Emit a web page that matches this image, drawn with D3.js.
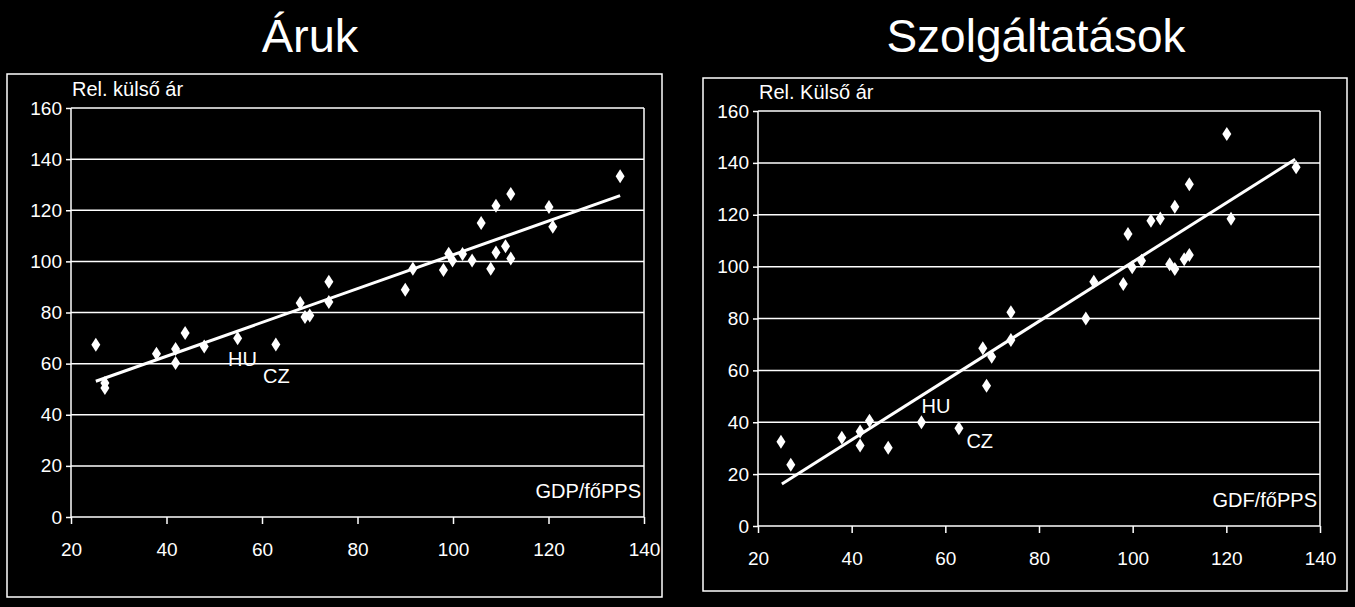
<!DOCTYPE html>
<html>
<head>
<meta charset="utf-8">
<script src="https://cdn.jsdelivr.net/npm/d3@7"></script>
<style>
  html, body { margin: 0; padding: 0; background: #000; }
  svg { display: block; }
  text { font-family: "Liberation Sans", Arial, sans-serif; fill: #fff; }
</style>
</head>
<body>
<svg id="chart" width="1355" height="607"></svg>
<script>
// ---------- Data ----------
const xTicks = [20, 40, 60, 80, 100, 120, 140];
const yTicks = [0, 20, 40, 60, 80, 100, 120, 140, 160];

// Áruk (goods)
const goodsTitle = "Áruk";
const goodsYLabel = "Rel. külső ár";
const goodsXLabel = "GDP/főPPS";
const goodsGdp   = [25.2, 27.1, 27.1, 37.9, 41.9, 41.9, 43.9, 47.9, 54.9, 62.9, 68.0, 69.0, 70.0, 74.0, 74.0, 90.0, 91.6, 98.0, 99.1, 99.9, 102.0, 104.0, 105.9, 107.9, 109.0, 109.0, 111.0, 112.1, 112.1, 120.1, 120.9, 135.0];
const goodsPrice = [67.4, 52.4, 50.5, 63.9, 65.7, 60.2, 72.0, 66.7, 69.9, 67.5, 83.7, 78.2, 78.8, 92.0, 84.1, 88.9, 97.1, 96.6, 103.0, 100.3, 102.9, 100.3, 115.0, 97.1, 121.8, 103.5, 105.9, 126.4, 101.1, 121.3, 113.5, 133.3];
const goodsTrendX = [25.2, 135.0];
const goodsTrendY = [53.1, 125.7];
const goodsLabels = ["HU", "CZ"];
const goodsLabelX = [52.9, 60.2];
const goodsLabelY = [59.2, 52.5];

// Szolgáltatások (services)
const servTitle = "Szolgáltatások";
const servYLabel = "Rel. Külső ár";
const servXLabel = "GDF/főPPS";
const servGdp   = [24.9, 27.0, 37.9, 41.8, 41.8, 43.8, 47.8, 54.9, 62.9, 68.0, 68.8, 69.9, 74.0, 74.0, 90.0, 91.7, 98.0, 99.0, 99.9, 101.9, 103.9, 105.9, 107.9, 109.0, 109.0, 111.0, 112.1, 112.1, 120.1, 121.0, 134.9];
const servPrice = [32.5, 23.6, 34.0, 36.4, 31.0, 40.6, 30.2, 40.0, 37.7, 68.5, 54.1, 65.3, 82.4, 71.7, 80.0, 94.2, 93.3, 112.6, 99.8, 102.3, 117.7, 118.6, 100.9, 123.1, 99.1, 102.8, 104.5, 131.8, 151.1, 118.5, 138.3];
const servTrendX = [25.1, 134.7];
const servTrendY = [16.2, 141.4];
const servLabels = ["HU", "CZ"];
const servLabelX = [54.9, 64.5];
const servLabelY = [43.4, 29.9];

// ---------- Drawing ----------
const svg = d3.select("#chart");
svg.append("rect").attr("width", 1355).attr("height", 607).attr("fill", "#000");

function drawPanel(cfg) {
  const g = svg.append("g");
  // outer frame
  g.append("rect")
    .attr("x", cfg.frame[0]).attr("y", cfg.frame[1])
    .attr("width", cfg.frame[2] - cfg.frame[0]).attr("height", cfg.frame[3] - cfg.frame[1])
    .attr("fill", "none").attr("stroke", "#fff").attr("stroke-width", 1.5);

  // title
  g.append("text")
    .attr("x", cfg.titleX).attr("y", 52)
    .attr("text-anchor", "middle")
    .style("font-size", cfg.titleSize)
    .text(cfg.title);

  const x = d3.scaleLinear().domain([20, 140]).range([cfg.plot.left, cfg.plot.right]);
  const y = d3.scaleLinear().domain([0, 160]).range([cfg.plot.bottom, cfg.plot.top]);

  // gridlines
  g.append("g").selectAll("line").data(yTicks.filter(d => d > 0)).join("line")
    .attr("x1", x(20)).attr("x2", x(140))
    .attr("y1", d => y(d)).attr("y2", d => y(d))
    .attr("stroke", "#fff").attr("stroke-width", 1.5);

  // right border of plot
  g.append("line")
    .attr("x1", x(140)).attr("x2", x(140)).attr("y1", y(160)).attr("y2", y(0))
    .attr("stroke", "#fff").attr("stroke-width", 1.5);

  // y axis
  const yAxis = d3.axisLeft(y).tickValues(yTicks).tickSize(5).tickPadding(4);
  const ya = g.append("g").attr("transform", `translate(${x(20)},0)`).call(yAxis);
  // x axis
  const xAxis = d3.axisBottom(x).tickValues(xTicks).tickSize(7).tickPadding(19);
  const xa = g.append("g").attr("transform", `translate(0,${y(0)})`).call(xAxis);

  [ya, xa].forEach(a => {
    a.selectAll("path.domain").attr("stroke", "#fff").attr("stroke-width", 1.5);
    a.selectAll(".tick line").attr("stroke", "#fff").attr("stroke-width", 1.5);
    a.selectAll(".tick text")
      .attr("fill", "#fff")
      .style("font-family", '"Liberation Sans", Arial, sans-serif')
      .style("font-size", "19px");
  });
  ya.selectAll("path.domain").attr("d", `M0,${y(160)}V${y(0)}`);
  xa.selectAll("path.domain").attr("d", `M${x(20)},0H${x(140)}`);

  // axis titles
  g.append("text")
    .attr("x", cfg.plot.left + 1).attr("y", cfg.plot.top - 12)
    .style("font-size", "20px")
    .text(cfg.yLabel);
  g.append("text")
    .attr("x", cfg.plot.right - 3).attr("y", cfg.plot.bottom - 19)
    .attr("text-anchor", "end")
    .style("font-size", "20px")
    .text(cfg.xLabel);

  // trend line
  const line = d3.line().x(d => x(d[0])).y(d => y(d[1]));
  g.append("path")
    .datum(cfg.trendX.map((v, i) => [v, cfg.trendY[i]]))
    .attr("d", line)
    .attr("fill", "none").attr("stroke", "#fff").attr("stroke-width", 3);

  // diamonds
  const diamond = "M0,-7L4.5,0L0,7L-4.5,0Z";
  g.append("g").selectAll("path").data(cfg.gdp.map((v, i) => [v, cfg.price[i]])).join("path")
    .attr("d", diamond)
    .attr("transform", d => `translate(${x(d[0])},${y(d[1])})`)
    .attr("fill", "#fff");

  // country labels
  g.append("g").selectAll("text").data(cfg.labels.map((t, i) => [t, cfg.labelX[i], cfg.labelY[i]])).join("text")
    .attr("x", d => x(d[1])).attr("y", d => y(d[2]))
    .style("font-size", "20px")
    .text(d => d[0]);
}

drawPanel({
  frame: [7, 74, 662, 597],
  titleX: 310,
  titleSize: "47px",
  title: goodsTitle,
  plot: { left: 71, right: 644, top: 108, bottom: 517 },
  yLabel: goodsYLabel, xLabel: goodsXLabel,
  gdp: goodsGdp, price: goodsPrice,
  trendX: goodsTrendX, trendY: goodsTrendY,
  labels: goodsLabels, labelX: goodsLabelX, labelY: goodsLabelY
});

drawPanel({
  frame: [703, 78, 1347, 591],
  titleX: 1036,
  titleSize: "46px",
  title: servTitle,
  plot: { left: 758, right: 1320, top: 111, bottom: 526 },
  yLabel: servYLabel, xLabel: servXLabel,
  gdp: servGdp, price: servPrice,
  trendX: servTrendX, trendY: servTrendY,
  labels: servLabels, labelX: servLabelX, labelY: servLabelY
});
</script>
</body>
</html>
